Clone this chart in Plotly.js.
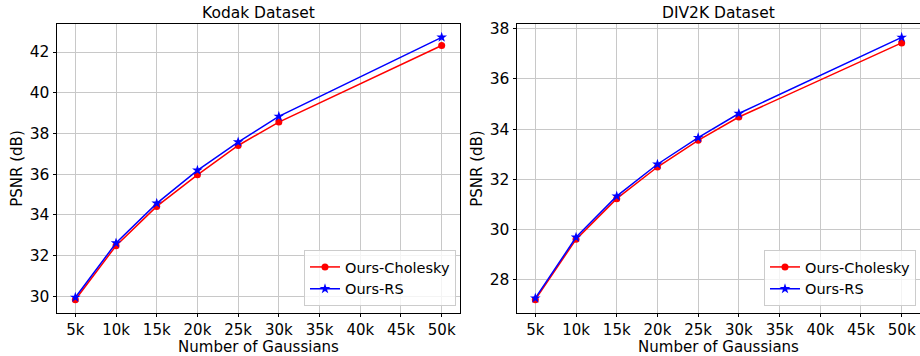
<!DOCTYPE html>
<html>
<head>
<meta charset="utf-8">
<script src="https://cdn.plot.ly/plotly-3.0.1.min.js"></script>
<style>html,body{margin:0;padding:0;background:#fff;} #chart{width:920px;height:356px;}</style>
</head>
<body>
<div id="chart"></div>
<script>
const gaussians = [5, 10, 15, 20, 25, 30, 50];
const tickVals = [5, 10, 15, 20, 25, 30, 35, 40, 45, 50];
const tickText = ["5k", "10k", "15k", "20k", "25k", "30k", "35k", "40k", "45k", "50k"];
const kodakCholesky = [29.84, 32.49, 34.42, 35.97, 37.41, 38.56, 42.32];
const kodakRS = [29.95, 32.62, 34.57, 36.19, 37.58, 38.84, 42.72];
const div2kCholesky = [27.21, 29.61, 31.23, 32.49, 33.55, 34.48, 37.43];
const div2kRS = [27.27, 29.69, 31.33, 32.60, 33.66, 34.62, 37.65];

const FONT = "DejaVu Sans, sans-serif";
function series(x, y, name, color, symbol, size, xa, ya, legend, show) {
  return {
    x: x, y: y, name: name, type: 'scatter', mode: 'lines+markers',
    xaxis: xa, yaxis: ya, legend: legend, showlegend: show,
    line: {color: color, width: 1.5},
    marker: {color: color, symbol: symbol, size: size, line: {width: 0}}
  };
}
const data = [
  series(gaussians, kodakCholesky, 'Ours-Cholesky', '#ff0000', 'circle', 7, 'x', 'y', 'legend', true),
  series(gaussians, kodakRS, 'Ours-RS', '#0000ff', 'star', 8, 'x', 'y', 'legend', true),
  series(gaussians, div2kCholesky, 'Ours-Cholesky', '#ff0000', 'circle', 7, 'x2', 'y2', 'legend2', true),
  series(gaussians, div2kRS, 'Ours-RS', '#0000ff', 'star', 8, 'x2', 'y2', 'legend2', true)
];
function xax(domain, anchor) {
  return {
    domain: domain, anchor: anchor, range: [2.75, 52.25],
    tickvals: tickVals, ticktext: tickText,
    ticks: 'outside', ticklen: 3.5, tickcolor: '#000', tickwidth: 1,
    showline: true, linecolor: '#000', linewidth: 1, mirror: true,
    showgrid: true, gridcolor: '#c8c8c8', gridwidth: 1, zeroline: false,
    tickfont: {family: FONT, size: 15, color: '#000'},
    title: {text: 'Number of Gaussians', font: {family: FONT, size: 15, color: '#000'}, standoff: 3}
  };
}
function yax(domain, anchor, range, dtick) {
  return {
    domain: domain, anchor: anchor, range: range, dtick: dtick, tick0: 0,
    ticks: 'outside', ticklen: 3.5, tickcolor: '#000', tickwidth: 1,
    showline: true, linecolor: '#000', linewidth: 1, mirror: true,
    showgrid: true, gridcolor: '#c8c8c8', gridwidth: 1, zeroline: false,
    tickfont: {family: FONT, size: 15.5, color: '#000'},
    title: {text: 'PSNR (dB)', font: {family: FONT, size: 15, color: '#000'}, standoff: 3}
  };
}
const yDom = [0.1216, 0.9317];
function leg(x, y) {
  return {
    x: x, y: y, xanchor: 'right', yanchor: 'bottom',
    bgcolor: 'rgba(255,255,255,0.8)', bordercolor: '#cccccc', borderwidth: 1,
    font: {family: FONT, size: 14.5, color: '#000'}, tracegroupgap: 0, itemwidth: 30
  };
}
const layout = {
  width: 920, height: 356,
  margin: {l: 0, r: 0, t: 0, b: 0},
  paper_bgcolor: '#fff', plot_bgcolor: '#fff',
  showlegend: true,
  xaxis: xax([57/920, 460/920], 'y'),
  yaxis: yax(yDom, 'x', [29.2, 43.36], 2),
  xaxis2: xax([517/920, 1.0], 'y2'),
  yaxis2: yax(yDom, 'x2', [26.69, 38.17], 2),
  legend: leg(456/920, 50/356),
  legend2: leg(916/920, 50/356),
  annotations: [
    {text: 'Kodak Dataset', x: (57+460)/2/920, y: 1 - 13/356, xref: 'paper', yref: 'paper',
     showarrow: false, xanchor: 'center', yanchor: 'middle', font: {family: FONT, size: 15.5, color: '#000'}},
    {text: 'DIV2K Dataset', x: (517+920)/2/920, y: 1 - 13/356, xref: 'paper', yref: 'paper',
     showarrow: false, xanchor: 'center', yanchor: 'middle', font: {family: FONT, size: 15.5, color: '#000'}}
  ]
};
Plotly.newPlot('chart', data, layout, {staticPlot: true, displayModeBar: false});
</script>
</body>
</html>
